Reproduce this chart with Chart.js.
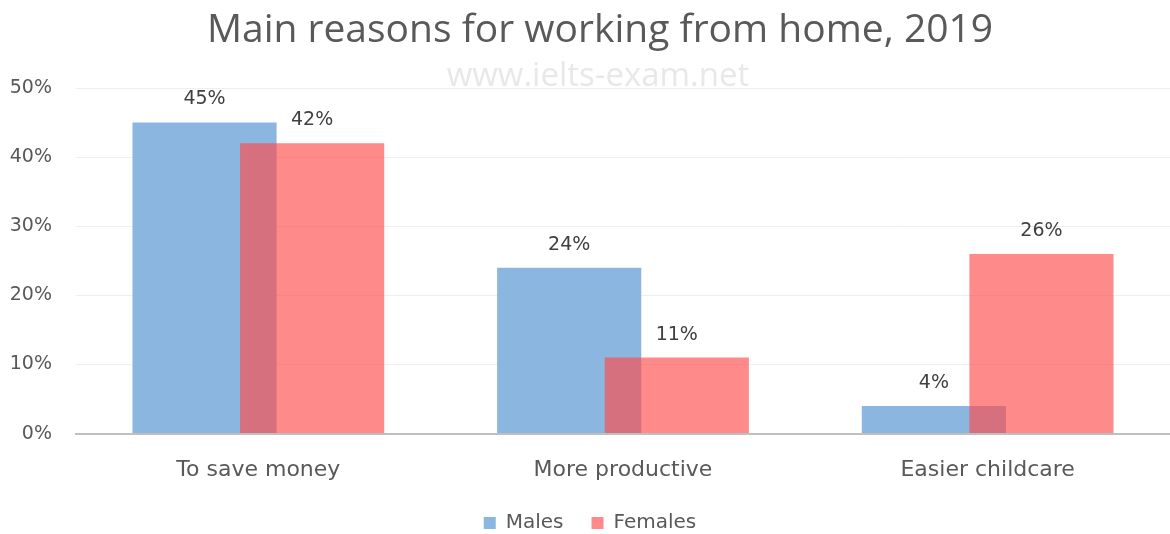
<!DOCTYPE html>
<html lang="en">
<head>
<meta charset="UTF-8">
<title>Main reasons for working from home, 2019</title>
<script src="https://cdn.jsdelivr.net/npm/chart.js"></script>
<style>
    html, body { margin: 0; padding: 0; background: #ffffff; }
    .chart-box { width: 1170px; height: 534px; }
</style>
</head>
<body>

<div class="chart-box">
    <canvas id="myChart"></canvas>
</div>

<script>
    const categories = ['To save money', 'More productive', 'Easier childcare'];
    const males = [45, 24, 4];
    const females = [42, 11, 26];
    const yMax = 50;
    const yStep = 10;
    const chartTitle = 'Main reasons for working from home, 2019';
    const watermark = 'www.ielts-exam.net';

    const textColor = '#595959';
    const bodyFont = '"DejaVu Sans", "Noto Sans", sans-serif';

    // the red bars sit on top of the blue ones, so draw them last
    const redOnTop = {
        id: 'redOnTop',
        beforeDatasetDraw(chart, args) {
            if (args.index === 1) return false;
        },
        afterDatasetsDraw(chart) {
            const ctx = chart.ctx;
            const area = chart.chartArea;
            ctx.save();
            ctx.beginPath();
            ctx.rect(area.left, area.top, area.right - area.left, area.bottom - area.top);
            ctx.clip();
            chart.getDatasetMeta(1).controller.draw();
            ctx.restore();

            // value labels
            ctx.save();
            ctx.font = '19px ' + bodyFont;
            ctx.fillStyle = '#404040';
            ctx.textAlign = 'center';
            ctx.textBaseline = 'middle';
            chart.data.datasets.forEach((ds, i) => {
                chart.getDatasetMeta(i).data.forEach((bar, j) => {
                    ctx.fillText(ds.data[j] + '%', bar.x, bar.y - 23);
                });
            });
            ctx.restore();
        },
        afterDraw(chart) {
            // title and watermark (title is centred on the page, not on the plot)
            const ctx = chart.ctx;
            ctx.save();
            ctx.textAlign = 'center';
            ctx.textBaseline = 'middle';
            ctx.font = '39px "Open Sans", sans-serif';
            ctx.fillStyle = textColor;
            ctx.fillText(chartTitle, 600, 31);
            ctx.font = '33px "Open Sans", sans-serif';
            ctx.fillStyle = '#e8e8e8';
            ctx.fillText(watermark, 598, chart.chartArea.top - 11);
            ctx.restore();
        }
    };

    const ctx = document.getElementById('myChart').getContext('2d');

    const myChart = new Chart(ctx, {
        type: 'bar',
        data: {
            labels: categories,
            datasets: [{
                label: 'Males',
                data: males,
                backgroundColor: '#8ab6e0',
                categoryPercentage: 0.59,
                barPercentage: 1.34
            }, {
                label: 'Females',
                data: females,
                backgroundColor: 'rgba(255, 75, 75, 0.65)',
                categoryPercentage: 0.59,
                barPercentage: 1.34
            }]
        },
        options: {
            responsive: true,
            maintainAspectRatio: false,
            animation: false,
            layout: {
                padding: { left: 10, right: 0, top: 88, bottom: -9 }
            },
            plugins: {
                title: { display: false },
                legend: {
                    position: 'bottom',
                    labels: {
                        color: textColor,
                        font: { family: bodyFont, size: 20 },
                        boxWidth: 12,
                        boxHeight: 12,
                        padding: 28
                    }
                },
                tooltip: { enabled: false }
            },
            scales: {
                x: {
                    grid: { display: false },
                    border: { color: '#bfbfbf', width: 2 },
                    ticks: {
                        color: textColor,
                        font: { family: bodyFont, size: 22 },
                        padding: 15
                    },
                    afterFit: scale => { scale.height -= 13; }
                },
                y: {
                    min: 0,
                    max: yMax,
                    grid: { color: '#eeeeee', drawTicks: false },
                    border: { display: false },
                    ticks: {
                        stepSize: yStep,
                        color: textColor,
                        font: { family: bodyFont, size: 19 },
                        padding: 24,
                        callback: v => v + '%'
                    },
                    afterFit: scale => { scale.width = 66; }
                }
            }
        },
        plugins: [redOnTop]
    });
</script>

</body>
</html>
